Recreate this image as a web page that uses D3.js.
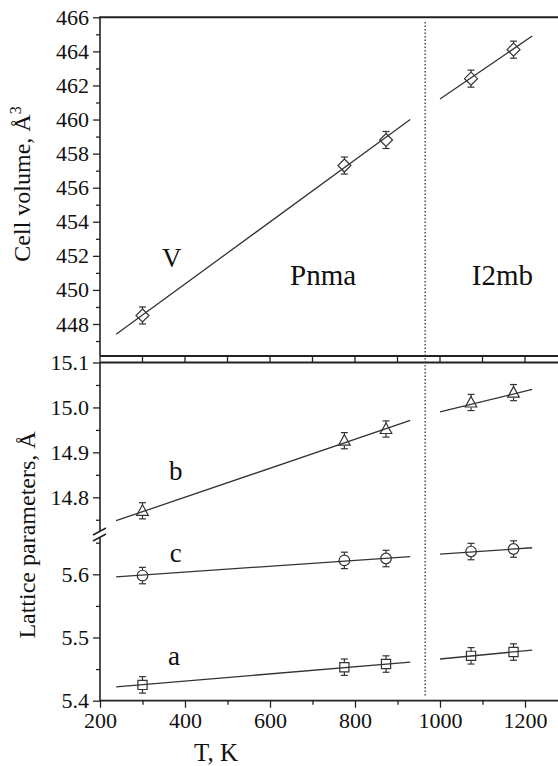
<!DOCTYPE html>
<html><head><meta charset="utf-8">
<script src="https://cdn.jsdelivr.net/npm/d3@7"></script>
<style>body{margin:0;background:#fff}svg{display:block}</style>
</head><body><div id="chart"></div>
<script>
// ---- data ----
const temps = [300, 775, 873, 1073, 1173];
const volume = [448.5, 457.3, 458.8, 462.4, 464.1];
const latB = [14.77, 14.926, 14.952, 15.011, 15.033];
const latC = [5.598, 5.622, 5.625, 5.636, 5.640];
const latA = [5.425, 5.453, 5.458, 5.471, 5.477];
const errV = 0.5, errB = 0.018, errC = 0.013, errA = 0.013;
// linear fits: [T start, T end] per phase
const fitPnmaT = [238, 930];
const fitI2mbT = [1000, 1217];
const fitV = [[447.4, 460.0], [461.2, 464.9]];
const fitB = [[14.748, 14.971], [14.99, 15.04]];
const fitC = [[5.596, 5.628], [5.632, 5.642]];
const fitA = [[5.422, 5.461], [5.466, 5.480]];
const transitionT = 965;
const xTicks = [200, 400, 600, 800, 1000, 1200];
const xMinor = [300, 500, 700, 900, 1100];
const vTicks = [448, 450, 452, 454, 456, 458, 460, 462, 464, 466];
const vMinor = [447, 449, 451, 453, 455, 457, 459, 461, 463, 465];
const bTicks = [14.8, 14.9, 15.0, 15.1];
const bMinor = [14.75, 14.85, 14.95, 15.05];
const lTicks = [5.4, 5.5, 5.6];
const lMinor = [5.45, 5.55, 5.65];

const FONT = "'Liberation Serif', 'Times New Roman', Times, serif";
const W = 558, H = 766;
const svg = d3.select("#chart").append("svg").attr("width", W).attr("height", H)
  .attr("font-family", FONT);

const x = d3.scaleLinear().domain([200, 1200]).range([100, 525]);
const yV = d3.scaleLinear().domain([448, 466]).range([324, 17.3]);
const yB = d3.scaleLinear().domain([14.8, 15.1]).range([497.3, 362.5]);
const yL = d3.scaleLinear().domain([5.4, 5.6]).range([700.7, 574.3]);

const axisCol = "#222", lineCol = "#333";
const X0 = 100, XR = 558;
const topY = yV(466), topBottom = 356, botTop = yB(15.1), xAxisY = yL(5.4);

function styleText(sel, size) {
  sel.attr("font-family", FONT).style("font-family", FONT).attr("font-size", size).style("font-size", size + "px").attr("fill", "#111");
}

// ---- y axes ----
function yAxis(scale, major, minor, fmt) {
  const g = svg.append("g").attr("transform", `translate(${X0},0)`);
  g.call(d3.axisLeft(scale).tickValues(major).tickSize(7).tickPadding(4).tickFormat(fmt));
  g.append("g").call(d3.axisLeft(scale).tickValues(minor).tickSize(4).tickFormat(""));
  g.attr("font-family", FONT);
  g.selectAll("g").attr("font-family", FONT);
  g.selectAll(".domain").remove();
  g.selectAll("line").attr("stroke", axisCol).attr("stroke-width", 1.3);
  styleText(g.selectAll("text"), 22);
}
yAxis(yV, vTicks, vMinor, d3.format("d"));
yAxis(yB, bTicks, bMinor, d3.format(".1f"));
yAxis(yL, lTicks, lMinor, d3.format(".1f"));

// axis lines
const ax = svg.append("g").attr("stroke", axisCol).attr("fill", "none");
ax.append("line").attr("x1", X0).attr("x2", XR).attr("y1", topY).attr("y2", topY).attr("stroke-width", 2);
ax.append("line").attr("x1", X0).attr("x2", X0).attr("y1", topY - 1).attr("y2", topBottom).attr("stroke-width", 1.6);
ax.append("line").attr("x1", X0).attr("x2", XR).attr("y1", topBottom).attr("y2", topBottom).attr("stroke-width", 1.8);
ax.append("line").attr("x1", X0).attr("x2", XR).attr("y1", botTop).attr("y2", botTop).attr("stroke-width", 1.8);
ax.append("line").attr("x1", X0).attr("x2", X0).attr("y1", botTop).attr("y2", 531).attr("stroke-width", 1.6);
ax.append("line").attr("x1", X0).attr("x2", X0).attr("y1", 538).attr("y2", xAxisY).attr("stroke-width", 1.6);
ax.append("line").attr("x1", X0).attr("x2", XR).attr("y1", xAxisY).attr("y2", xAxisY).attr("stroke-width", 1.8);
// break marks
ax.append("line").attr("x1", 93).attr("y1", 535).attr("x2", 106).attr("y2", 528).attr("stroke-width", 1.5);
ax.append("line").attr("x1", 93).attr("y1", 541).attr("x2", 106).attr("y2", 534).attr("stroke-width", 1.5);

// ticks between the double line
xTicks.concat(xMinor).forEach(t => {
  ax.append("line").attr("x1", x(t)).attr("x2", x(t)).attr("y1", topBottom).attr("y2", botTop).attr("stroke-width", 1.3);
});

// ---- x axis ----
const gx = svg.append("g").attr("transform", `translate(0,${xAxisY})`);
gx.call(d3.axisBottom(x).tickValues(xTicks).tickSize(7).tickPadding(5).tickFormat(d3.format("d")));
gx.append("g").call(d3.axisBottom(x).tickValues(xMinor).tickSize(4).tickFormat(""));
gx.attr("font-family", FONT);
gx.selectAll("g").attr("font-family", FONT);
gx.selectAll(".domain").remove();
gx.selectAll("line").attr("stroke", axisCol).attr("stroke-width", 1.3);
styleText(gx.selectAll("text"), 22);

// ---- titles ----
styleText(svg.append("text").attr("x", x(473)).attr("y", 761).attr("text-anchor", "middle").text("T, K"), 25);
const t1 = svg.append("text").attr("transform", "translate(30,184) rotate(-90)").attr("text-anchor", "middle");
styleText(t1, 24);
t1.append("tspan").text("Cell volume, Å");
t1.append("tspan").attr("dy", -9).style("font-size", "16px").text("3");
styleText(svg.append("text").attr("transform", "translate(35,535) rotate(-90)").attr("text-anchor", "middle").text("Lattice parameters, Å"), 24);

// ---- transition line ----
svg.append("line").attr("x1", x(transitionT)).attr("x2", x(transitionT)).attr("y1", 22).attr("y2", 697)
  .attr("stroke", "#333").attr("stroke-width", 1.3).attr("stroke-dasharray", "1.6,1.9");

// ---- fits ----
function fits(scale, vals) {
  [fitPnmaT, fitI2mbT].forEach((tr, i) => {
    svg.append("line").attr("x1", x(tr[0])).attr("x2", x(tr[1]))
      .attr("y1", scale(vals[i][0])).attr("y2", scale(vals[i][1]))
      .attr("stroke", lineCol).attr("stroke-width", 1.3);
  });
}
fits(yV, fitV); fits(yB, fitB); fits(yL, fitC); fits(yL, fitA);

// ---- markers ----
function shapePath(type, cx, cy) {
  if (type === "diamond") { const s = 6.5; return `M${cx},${cy - s}L${cx + s},${cy}L${cx},${cy + s}L${cx - s},${cy}Z`; }
  if (type === "square") { const s = 4.6; return `M${cx - s},${cy - s}h${2 * s}v${2 * s}h${-2 * s}Z`; }
  if (type === "triangle") { return `M${cx},${cy - 6}L${cx + 5.8},${cy + 4.5}L${cx - 5.8},${cy + 4.5}Z`; }
  return null;
}
function series(scale, vals, err, type, half) {
  const g = svg.append("g").attr("stroke", lineCol).attr("fill", "none").attr("stroke-width", 1.2);
  vals.forEach((v, i) => {
    const cx = x(temps[i]), cy = scale(v), yt = scale(v + err), yb = scale(v - err);
    g.append("line").attr("x1", cx).attr("x2", cx).attr("y1", yt).attr("y2", cy - half);
    g.append("line").attr("x1", cx).attr("x2", cx).attr("y1", cy + half).attr("y2", yb);
    g.append("line").attr("x1", cx - 3.5).attr("x2", cx + 3.5).attr("y1", yt).attr("y2", yt);
    g.append("line").attr("x1", cx - 3.5).attr("x2", cx + 3.5).attr("y1", yb).attr("y2", yb);
    if (type === "circle") g.append("circle").attr("cx", cx).attr("cy", cy).attr("r", 5.3);
    else g.append("path").attr("d", shapePath(type, cx, cy));
  });
}
series(yV, volume, errV, "diamond", 6.5);
series(yB, latB, errB, "triangle", 5);
series(yL, latC, errC, "circle", 5.3);
series(yL, latA, errA, "square", 4.6);

// ---- labels ----
function label(txt, T, yPix, size) {
  styleText(svg.append("text").attr("x", x(T)).attr("y", yPix).attr("text-anchor", "middle").text(txt), size);
}
label("V", 369, 267, 27);
label("Pnma", 725, 285, 29);
label("I2mb", 1147, 285, 29);
label("b", 378, 480, 27);
label("c", 378, 562, 27);
label("a", 374, 665, 27);
</script></body></html>
